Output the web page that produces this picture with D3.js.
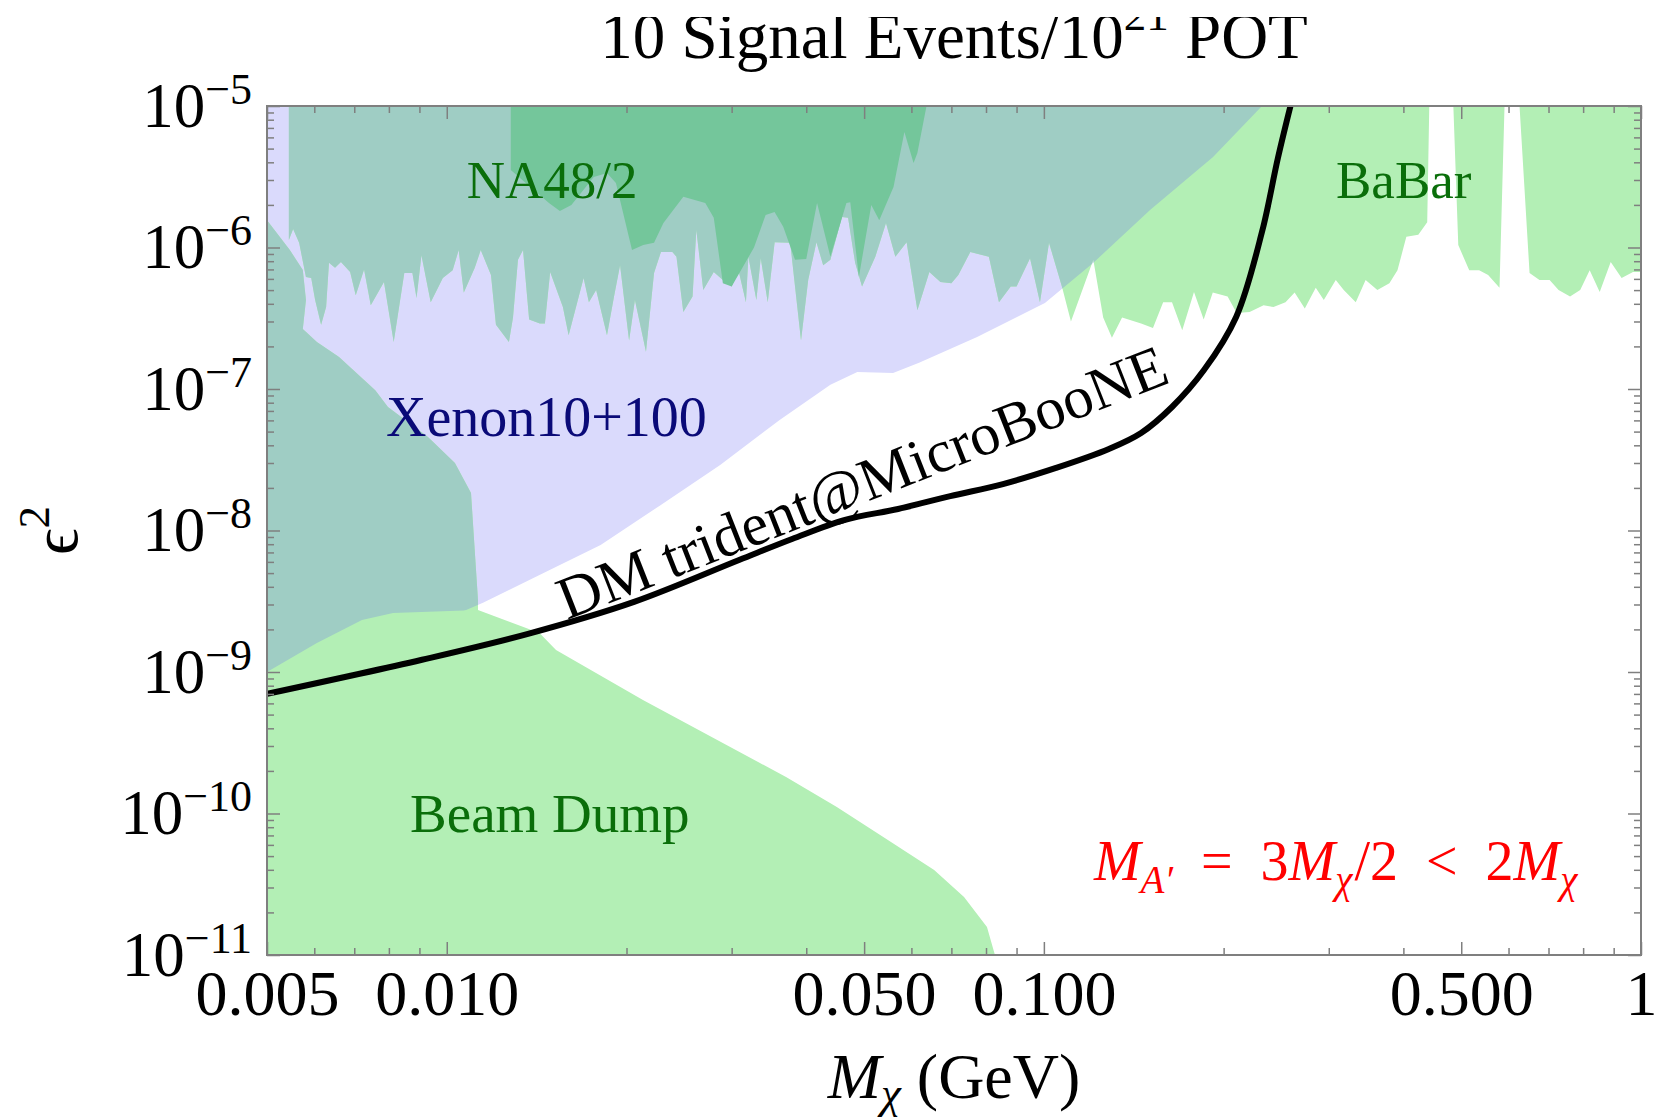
<!DOCTYPE html>
<html>
<head>
<meta charset="utf-8">
<title>10 Signal Events</title>
<script src="https://d3js.org/d3.v7.min.js"></script>
<style>
  body { margin: 0; background: #fff; }
  text { font-family: "Liberation Serif", "Times New Roman", serif; }
</style>
</head>
<body>
<script>
// ---- axis ticks ----
var xMajor = [0.005, 0.01, 0.05, 0.1, 0.5, 1];
var xLabels = ['0.005', '0.010', '0.050', '0.100', '0.500', '1'];
var xMinor = [0.006, 0.007, 0.008, 0.009, 0.02, 0.03, 0.04, 0.06, 0.07, 0.08, 0.09, 0.2, 0.3, 0.4, 0.6, 0.7, 0.8, 0.9];
var yExps = [-11, -10, -9, -8, -7, -6, -5];

// ---- curves / regions: [M_chi (GeV), epsilon^2] ----
var trident = [
  [0.005, 7.0e-10], [0.00909, 1.22e-9], [0.01368, 1.86e-9], [0.02059, 3.13e-9], [0.03087, 6.19e-9],
  [0.03787, 8.71e-9], [0.04645, 1.19e-8], [0.057, 1.42e-8], [0.0697, 1.75e-8], [0.0854, 2.13e-8],
  [0.1048, 2.77e-8], [0.1285, 3.77e-8], [0.1455, 4.89e-8], [0.1639, 7.46e-8], [0.1854, 1.36e-7],
  [0.2099, 3.23e-7], [0.2319, 1.29e-6], [0.2466, 4.3e-6], [0.2588, 1.0e-5]
];

var xenon = [
  [0.005, 1e-5], [0.2319, 1e-5], [0.192, 4.36e-6], [0.1506, 1.84e-6], [0.1209, 7.77e-7],
  [0.1004, 4.06e-7], [0.0773, 2.33e-7], [0.0618, 1.53e-7], [0.0559, 1.30e-7], [0.0487, 1.32e-7],
  [0.0439, 1.07e-7], [0.0361, 6.04e-8], [0.0287, 2.90e-8], [0.0228, 1.51e-8], [0.0181, 7.9e-9],
  [0.0143, 4.85e-9], [0.0115, 3.08e-9], [0.005, 6.8e-10]
];

var leftBand = [
  [0.005, 1.56e-6], [0.00546, 9.6e-7], [0.00574, 6.93e-7], [0.00581, 4.26e-7], [0.00574, 2.65e-7],
  [0.00606, 2.15e-7], [0.0066, 1.68e-7], [0.00759, 9.8e-8], [0.00797, 7.46e-8], [0.0093, 4.58e-8],
  [0.01032, 3.0e-8], [0.01098, 1.84e-8], [0.01128, 3.22e-9], [0.01128, 5e-10], [0.005, 5e-10]
];

var babar = [
  [0.00544, 1e-5], [0.00544, 1.13e-6], [0.00553, 1.35e-6], [0.00566, 1.08e-6], [0.00581, 6.2e-7],
  [0.00593, 6.1e-7], [0.00602, 4.25e-7], [0.00616, 2.84e-7], [0.00628, 3.8e-7], [0.00635, 7.8e-7],
  [0.0065, 7.2e-7], [0.00665, 7.9e-7], [0.00689, 6.7e-7], [0.00704, 4.6e-7], [0.00727, 7.0e-7],
  [0.00746, 3.9e-7], [0.00785, 5.7e-7], [0.00815, 2.15e-7], [0.00849, 6.6e-7], [0.00876, 6.6e-7],
  [0.0089, 4.4e-7], [0.00907, 8.8e-7], [0.0094, 4.1e-7], [0.00985, 6.1e-7], [0.01023, 6.9e-7],
  [0.01047, 9.6e-7], [0.01068, 4.8e-7], [0.01114, 7.2e-7], [0.0114, 9.6e-7], [0.01186, 6.4e-7],
  [0.01209, 2.84e-7], [0.01271, 2.15e-7], [0.01291, 3.2e-7], [0.01316, 8.2e-7], [0.01342, 9.6e-7],
  [0.01374, 3.1e-7], [0.01432, 2.9e-7], [0.0146, 2.9e-7], [0.0149, 6.7e-7], [0.01565, 3.8e-7],
  [0.016, 2.4e-7], [0.01695, 6.1e-7], [0.0173, 4.1e-7], [0.01779, 5.0e-7], [0.01855, 2.4e-7],
  [0.01906, 4.5e-7], [0.01951, 7.5e-7], [0.0202, 2.2e-7], [0.02066, 4.25e-7], [0.02156, 1.83e-7],
  [0.02224, 6.6e-7], [0.02284, 9.3e-7], [0.02387, 9.3e-7], [0.02425, 8.6e-7], [0.0249, 3.5e-7],
  [0.0258, 4.5e-7], [0.02618, 1.33e-6], [0.02689, 5.0e-7], [0.028, 6.7e-7], [0.029, 5.9e-7],
  [0.03, 5.3e-7], [0.0308, 6.9e-7], [0.0317, 4.1e-7], [0.032, 8.6e-7], [0.033, 4.25e-7],
  [0.03356, 8.4e-7], [0.03448, 4.1e-7], [0.03541, 1.09e-6], [0.0376, 1.08e-6], [0.0392, 2.2e-7],
  [0.0403, 5.9e-7], [0.0416, 1.09e-6], [0.0427, 7.5e-7], [0.0439, 8.2e-7], [0.0459, 1.64e-6],
  [0.047, 1.62e-6], [0.0483, 7.8e-7], [0.0496, 5.3e-7], [0.0522, 8.6e-7], [0.0544, 1.49e-6],
  [0.0564, 8.6e-7], [0.0589, 1.09e-6], [0.0614, 3.6e-7], [0.0643, 6.7e-7], [0.0671, 5.7e-7],
  [0.07, 5.6e-7], [0.0719, 6.4e-7], [0.0753, 9.3e-7], [0.0809, 8.6e-7], [0.0841, 4.1e-7],
  [0.088, 5.3e-7], [0.09, 5.3e-7], [0.0948, 8.4e-7], [0.0985, 4.1e-7], [0.102, 1.08e-6],
  [0.1072, 5.3e-7], [0.111, 3.0e-7], [0.121, 8.2e-7], [0.1257, 3.2e-7], [0.13, 2.3e-7],
  [0.1352, 3.2e-7], [0.1455, 2.9e-7], [0.1523, 2.7e-7], [0.1584, 4.1e-7], [0.1639, 4.1e-7],
  [0.1705, 2.6e-7], [0.1784, 4.85e-7], [0.1852, 3.1e-7], [0.1918, 4.8e-7], [0.2031, 4.5e-7],
  [0.2103, 3.45e-7], [0.2211, 3.5e-7], [0.2333, 3.9e-7], [0.2424, 3.8e-7], [0.2539, 4.1e-7],
  [0.263, 4.8e-7], [0.2735, 3.7e-7], [0.2853, 5.2e-7], [0.2943, 4.25e-7], [0.3082, 5.9e-7],
  [0.3178, 5.0e-7], [0.3329, 4.1e-7], [0.3458, 5.9e-7], [0.3618, 5.0e-7], [0.379, 5.6e-7],
  [0.391, 6.9e-7], [0.4046, 1.19e-6], [0.4237, 1.23e-6], [0.4385, 1.51e-6], [0.442, 1e-5],
  [0.485, 1e-5], [0.4943, 1.04e-6], [0.5156, 6.9e-7], [0.5357, 6.9e-7], [0.5546, 6.4e-7],
  [0.5795, 5.2e-7], [0.5908, 1e-5], [0.626, 1e-5], [0.6507, 6.6e-7], [0.676, 5.9e-7],
  [0.703, 5.9e-7], [0.7277, 5.0e-7], [0.7607, 4.5e-7], [0.791, 5.0e-7], [0.8205, 6.9e-7],
  [0.8528, 4.85e-7], [0.8898, 7.9e-7], [0.928, 6.1e-7], [0.9696, 6.7e-7], [1, 6.7e-7], [1, 1e-5]
];

var na48 = [
  [0.0128, 1e-5], [0.0128, 3.53e-6], [0.01483, 2.06e-6], [0.01547, 1.81e-6], [0.01617, 2.0e-6],
  [0.01763, 3.15e-6], [0.01855, 3.36e-6], [0.0192, 2.86e-6], [0.02043, 9.6e-7], [0.02133, 1.04e-6],
  [0.02224, 1.08e-6], [0.02306, 1.49e-6], [0.0249, 2.28e-6], [0.0271, 2.06e-6], [0.028, 1.62e-6],
  [0.029, 5.6e-7], [0.03, 5.3e-7], [0.0327, 1.0e-6], [0.0342, 1.70e-6], [0.0354, 1.78e-6],
  [0.0366, 1.40e-6], [0.0383, 8.2e-7], [0.04, 8.3e-7], [0.0417, 2.06e-6], [0.0439, 8.6e-7],
  [0.0467, 2.06e-6], [0.0474, 2.09e-6], [0.049, 6.2e-7], [0.0514, 2.0e-6], [0.053, 1.56e-6],
  [0.056, 2.68e-6], [0.0584, 6.55e-6], [0.0605, 3.95e-6], [0.0614, 4.66e-6], [0.0636, 1e-5]
];

var beamDump = [
  [0.005, 1.0e-9], [0.00606, 1.6e-9], [0.00721, 2.33e-9], [0.00813, 2.61e-9], [0.01128, 2.74e-9],
  [0.0143, 1.89e-9], [0.01524, 1.43e-9], [0.02131, 6.34e-10], [0.037, 1.81e-10], [0.045, 1.11e-10],
  [0.0548, 6.5e-11], [0.0655, 3.99e-11], [0.0735, 2.57e-11], [0.0803, 1.58e-11], [0.0828, 1e-11],
  [0.005, 1e-11]
];

// ---- layout ----
var width = 1656, height = 1119;
var padL = 267, padR = 1641, padT = 106, padB = 955;
var lavender = '#dadafc', lightGreen = '#b3efb5', teal = '#9fcdc4', darkGreen = '#74c69b';
var axisGrey = '#7f7f7f';

var x = d3.scaleLog().domain([0.005, 1]).range([padL, padR]);
var y = d3.scaleLog().domain([1e-11, 1e-5]).range([padB, padT]);

var svg = d3.select('body').append('svg')
    .attr('width', width)
    .attr('height', height);

var poly = d3.line().x(d => x(d[0])).y(d => y(d[1]));

var defs = svg.append('defs');
defs.append('clipPath').attr('id', 'plotClip')
    .append('rect').attr('x', padL).attr('y', padT)
    .attr('width', padR - padL).attr('height', padB - padT);
defs.append('clipPath').attr('id', 'xenonClip')
    .append('path').attr('d', poly(xenon) + 'Z');
defs.append('clipPath').attr('id', 'titleClip')
    .append('rect').attr('x', 0).attr('y', 17).attr('width', width).attr('height', 100);

var plot = svg.append('g').attr('clip-path', 'url(#plotClip)');

// Xenon10+100
plot.append('path').attr('d', poly(xenon) + 'Z').attr('fill', lavender);

// green bounds, teal where they overlap Xenon
[leftBand, babar].forEach(function (r) {
    plot.append('path').attr('d', poly(r) + 'Z').attr('fill', lightGreen);
    plot.append('g').attr('clip-path', 'url(#xenonClip)')
        .append('path').attr('d', poly(r) + 'Z').attr('fill', teal);
});

// NA48/2
plot.append('path').attr('d', poly(na48) + 'Z').attr('fill', darkGreen);

// beam dump
plot.append('path').attr('d', poly(beamDump) + 'Z').attr('fill', lightGreen);

// DM trident curve
plot.append('path')
    .attr('d', d3.line().x(d => x(d[0])).y(d => y(d[1])).curve(d3.curveCatmullRom.alpha(0.5))(trident))
    .attr('fill', 'none')
    .attr('stroke', '#000')
    .attr('stroke-width', 6);

// ---- axes (ticks inside the frame) ----
var yMajor = yExps.map(e => Math.pow(10, e));
var yMinor = [];
yExps.slice(0, -1).forEach(function (e) {
    for (var k = 2; k <= 9; k++) yMinor.push(k * Math.pow(10, e));
});

function styleTicks(g) {
    g.select('.domain').remove();
    g.selectAll('.tick line').attr('stroke', axisGrey).attr('stroke-width', 1.5);
}

function sideAxes(vals, len) {
    svg.append('g').attr('transform', `translate(0,${padB})`)
        .call(d3.axisBottom(x).tickValues(vals.x).tickSizeInner(-len).tickSizeOuter(0).tickFormat(''))
        .call(styleTicks);
    svg.append('g').attr('transform', `translate(0,${padT})`)
        .call(d3.axisTop(x).tickValues(vals.x).tickSizeInner(-len).tickSizeOuter(0).tickFormat(''))
        .call(styleTicks);
    svg.append('g').attr('transform', `translate(${padL},0)`)
        .call(d3.axisLeft(y).tickValues(vals.y).tickSizeInner(-len).tickSizeOuter(0).tickFormat(''))
        .call(styleTicks);
    svg.append('g').attr('transform', `translate(${padR},0)`)
        .call(d3.axisRight(y).tickValues(vals.y).tickSizeInner(-len).tickSizeOuter(0).tickFormat(''))
        .call(styleTicks);
}
sideAxes({ x: xMinor, y: yMinor }, 7);
sideAxes({ x: xMajor, y: yMajor }, 13);

// x tick labels
var gx = svg.append('g').attr('transform', `translate(0,${padB})`)
    .call(d3.axisBottom(x).tickValues(xMajor).tickSize(0).tickPadding(15)
        .tickFormat((d, i) => xLabels[i]));
gx.select('.domain').remove();
gx.attr('font-size', 64).attr('font-family', null);
gx.selectAll('text').attr('fill', '#000');

// y tick labels 10^n
var gy = svg.append('g').attr('transform', `translate(${padL},0)`)
    .call(d3.axisLeft(y).tickValues(yMajor).tickSize(0).tickPadding(15).tickFormat(''));
gy.select('.domain').remove();
gy.attr('font-size', 63).attr('font-family', null);
gy.selectAll('.tick text').each(function (d, i) {
    var t = d3.select(this).attr('fill', '#000');
    t.append('tspan').text('10');
    t.append('tspan').attr('font-size', 44).attr('dy', -23).text('\u2212' + Math.abs(yExps[i]));
});

// frame
svg.append('rect')
    .attr('x', padL).attr('y', padT)
    .attr('width', padR - padL).attr('height', padB - padT)
    .attr('fill', 'none').attr('stroke', axisGrey).attr('stroke-width', 2);

// ---- titles ----
var title = svg.append('text')
    .attr('clip-path', 'url(#titleClip)')
    .attr('x', (padL + padR) / 2).attr('y', 58)
    .attr('text-anchor', 'middle').attr('font-size', 65);
title.append('tspan').text('10 Signal Events/10');
title.append('tspan').attr('font-size', 45).attr('dy', -28).text('21');
title.append('tspan').attr('dy', 28).text(' POT');

var xl = svg.append('text')
    .attr('x', (padL + padR) / 2).attr('y', 1098)
    .attr('text-anchor', 'middle').attr('font-size', 64);
xl.append('tspan').attr('font-style', 'italic').text('M');
xl.append('tspan').attr('font-style', 'italic').attr('font-size', 45).attr('dy', 10).text('\u03c7');
xl.append('tspan').attr('dy', -10).text(' (GeV)');

var yl = svg.append('text')
    .attr('transform', `translate(77,${(padT + padB) / 2}) rotate(-90)`)
    .attr('text-anchor', 'middle').attr('font-size', 66);
yl.append('tspan').text('\u03f5');
yl.append('tspan').attr('font-size', 45).attr('dy', -28).text('2');

// ---- region labels ----
function label(txt, m, e, size, color) {
    return svg.append('text')
        .attr('x', x(m)).attr('y', y(e))
        .attr('font-size', size).attr('fill', color)
        .text(txt);
}
label('NA48/2', 0.0108, 2.24e-6, 53, '#0a6e0a');
label('BaBar', 0.3085, 2.24e-6, 53, '#0a6e0a');
label('Xenon10+100', 0.00791, 4.66e-8, 56, '#0a0a78');
label('Beam Dump', 0.00868, 7.4e-11, 55, '#0a6e0a');

// curve label
svg.append('text')
    .attr('transform', `translate(${x(0.0159)},${y(2.33e-9)}) rotate(-21.5)`)
    .attr('font-size', 60)
    .text('DM trident@MicroBooNE');

// mass relation
var f = svg.append('text')
    .attr('x', x(0.1213)).attr('y', y(3.39e-11))
    .attr('font-size', 56).attr('fill', '#ff0000');
f.append('tspan').attr('font-style', 'italic').text('M');
f.append('tspan').attr('font-style', 'italic').attr('font-size', 39).attr('dy', 13).text('A\u2032');
f.append('tspan').attr('dy', -13).attr('dx', 28).text('=');
f.append('tspan').attr('dx', 28).text('3');
f.append('tspan').attr('font-style', 'italic').text('M');
f.append('tspan').attr('font-style', 'italic').attr('font-size', 39).attr('dy', 13).text('\u03c7');
f.append('tspan').attr('dy', -13).attr('dx', 2).text('/2');
f.append('tspan').attr('dx', 28).text('<');
f.append('tspan').attr('dx', 28).text('2');
f.append('tspan').attr('font-style', 'italic').text('M');
f.append('tspan').attr('font-style', 'italic').attr('font-size', 39).attr('dy', 13).text('\u03c7');
</script>
</body>
</html>
